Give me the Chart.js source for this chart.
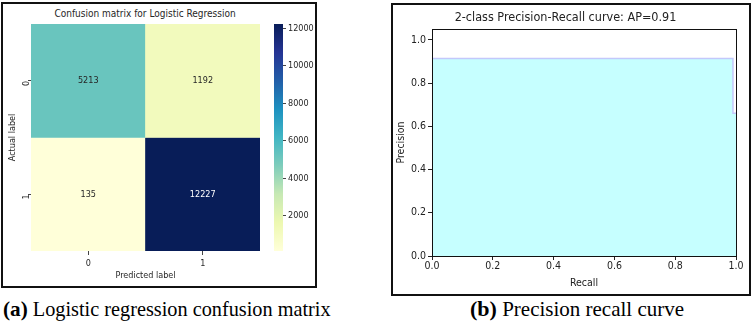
<!DOCTYPE html>
<html>
<head>
<meta charset="utf-8">
<script src="https://cdn.jsdelivr.net/npm/chart.js@4.4.1/dist/chart.umd.min.js"></script>
<style>
  body { margin: 0; background: #fff; width: 753px; height: 323px; position: relative; overflow: hidden; }
  .box { position: absolute; border: 2px solid #111; box-sizing: border-box; }
  canvas { position: absolute; }
  .cap { position: absolute; font-family: "Liberation Serif", serif; font-size: 21px; color: #000; white-space: nowrap; transform-origin: left top; }
  .cap b { font-size: 22px; }
  .htitle { position: absolute; left: 0; width: 290px; top: 8px; text-align: center; font: 10px 'DejaVu Sans Condensed', 'DejaVu Sans', sans-serif; color: #262626; line-height: 12px; }
</style>
</head>
<body>
<div class="box" style="left:1px; top:2px; width:316px; height:286px;"></div>
<div class="box" style="left:391px; top:3px; width:360px; height:293px;"></div>

<div class="htitle">Confusion matrix for Logistic Regression</div>
<canvas id="heat" width="265" height="280" style="left:5px; top:5px;"></canvas>
<canvas id="cbar" width="48" height="280" style="left:268px; top:5px;"></canvas>
<canvas id="pr" width="353" height="288" style="left:395px; top:5px;"></canvas>

<div class="cap" style="left:3px; top:296px; transform: scaleX(0.965);"><b>(a)</b> Logistic regression confusion matrix</div>
<div class="cap" style="left:470px; top:296px; transform: scaleX(1.0);"><b>(b)</b> Precision recall curve</div>

<script>
// confusion matrix data
const classLabels = ['0', '1'];
const row0 = [5213, 1192];
const row1 = [135, 12227];
const cbarTicks = [2000, 4000, 6000, 8000, 10000, 12000];

// precision-recall data
const recall = [0, 0.99, 0.99, 1.0];
const precision = [0.914, 0.914, 0.66, 0.66];
const prTicks = [0, 0.2, 0.4, 0.6, 0.8, 1.0];

const font = "'DejaVu Sans Condensed', 'DejaVu Sans', sans-serif";

// YlGnBu colormap stops
const ylgnbu = ['#ffffd9', '#edf8b1', '#c7e9b4', '#7fcdbb', '#41b6c4', '#1d91c0', '#225ea8', '#253494', '#081d58'];
const vmin = Math.min(...row0, ...row1);
const vmax = Math.max(...row0, ...row1);

function hex2rgb(h) {
    return [parseInt(h.slice(1, 3), 16), parseInt(h.slice(3, 5), 16), parseInt(h.slice(5, 7), 16)];
}
function cmap(v) {
    let t = (v - vmin) / (vmax - vmin);
    t = Math.max(0, Math.min(1, t)) * (ylgnbu.length - 1);
    const i = Math.min(Math.floor(t), ylgnbu.length - 2);
    const f = t - i;
    const a = hex2rgb(ylgnbu[i]), b = hex2rgb(ylgnbu[i + 1]);
    const c = a.map((x, k) => Math.round(x + (b[k] - x) * f));
    return 'rgb(' + c.join(',') + ')';
}

function fixWidth(w) { return function(scale) { scale.width = w; }; }
function fixHeight(h) { return function(scale) { scale.height = h; }; }

// heatmap: each row is a floating bar dataset on a reversed 0..2 axis
const cellText = {
    id: 'cellText',
    afterDatasetsDraw(chart) {
        const ctx = chart.ctx;
        ctx.save();
        ctx.font = '9px ' + font;
        ctx.textAlign = 'center';
        ctx.textBaseline = 'middle';
        chart.data.datasets.forEach((ds, di) => {
            chart.getDatasetMeta(di).data.forEach((el, i) => {
                const v = ds.values[i];
                const p = el.getCenterPoint();
                ctx.fillStyle = v > (vmin + vmax) / 2 ? '#fff' : '#262626';
                ctx.fillText(v, p.x, p.y);
            });
        });
        ctx.restore();
    }
};

new Chart(document.getElementById('heat'), {
    type: 'bar',
    data: {
        labels: classLabels,
        datasets: [row0, row1].map((row, r) => ({
            values: row,
            data: row.map(() => [r, r + 1]),
            backgroundColor: row.map(cmap),
            borderWidth: 0,
            grouped: false,
            barPercentage: 1,
            categoryPercentage: 1
        }))
    },
    options: {
        responsive: false,
        animation: false,
        events: [],
        layout: { padding: { right: 10, top: 19 } },
        plugins: {
            legend: { display: false },
            tooltip: { enabled: false }
        },
        scales: {
            x: {
                afterFit: fixHeight(34),
                grid: { display: true, drawOnChartArea: false, offset: false, tickLength: 4, color: '#444' },
                border: { display: false },
                ticks: { color: '#262626', font: { family: font, size: 9 }, padding: 3 },
                title: { display: true, text: 'Predicted label', color: '#262626', font: { family: font, size: 9 }, padding: { bottom: 4 } }
            },
            y: {
                min: 0,
                max: 2,
                reverse: true,
                afterFit: fixWidth(26),
                afterBuildTicks: function(scale) {
                    scale.ticks = classLabels.map((l, i) => ({ value: i + 0.5 }));
                },
                grid: { display: true, drawOnChartArea: false, tickLength: 3, color: '#444' },
                border: { display: false },
                ticks: {
                    color: '#262626',
                    font: { family: font, size: 9 },
                    padding: 1,
                    minRotation: 90,
                    maxRotation: 90,
                    callback: function(v) { return classLabels[Math.floor(v)]; }
                },
                title: { display: true, text: 'Actual label', color: '#262626', font: { family: font, size: 9 }, padding: { top: 2 } }
            }
        }
    },
    plugins: [cellText]
});

// colour bar
new Chart(document.getElementById('cbar'), {
    type: 'bar',
    data: {
        labels: [''],
        datasets: [{
            data: [[vmin, vmax]],
            backgroundColor: function(c) {
                const area = c.chart.chartArea;
                if (!area) return ylgnbu[0];
                const g = c.chart.ctx.createLinearGradient(0, area.bottom, 0, area.top);
                ylgnbu.forEach((col, i) => g.addColorStop(i / (ylgnbu.length - 1), col));
                return g;
            },
            borderWidth: 0,
            barPercentage: 1,
            categoryPercentage: 1
        }]
    },
    options: {
        responsive: false,
        animation: false,
        events: [],
        layout: { padding: { left: 6, top: 19, bottom: 34 } },
        plugins: { legend: { display: false }, tooltip: { enabled: false } },
        scales: {
            x: { display: false },
            y: {
                position: 'right',
                min: vmin,
                max: vmax,
                afterFit: fixWidth(33),
                afterBuildTicks: function(scale) {
                    scale.ticks = cbarTicks.map(v => ({ value: v }));
                },
                grid: { display: true, drawOnChartArea: false, tickLength: 3, color: '#444' },
                border: { display: false },
                ticks: { color: '#262626', font: { family: font, size: 9 }, padding: 2, callback: v => String(v) }
            }
        }
    }
});

// precision-recall curve
const frame = {
    id: 'frame',
    afterDraw(chart) {
        const a = chart.chartArea;
        const ctx = chart.ctx;
        ctx.save();
        ctx.strokeStyle = '#111';
        ctx.lineWidth = 1;
        ctx.strokeRect(a.left + 0.5, a.top + 0.5, a.right - a.left, a.bottom - a.top);
        ctx.restore();
    }
};

new Chart(document.getElementById('pr'), {
    type: 'line',
    data: {
        datasets: [{
            data: recall.map((r, i) => ({ x: r, y: precision[i] })),
            borderColor: '#c3c8fb',
            backgroundColor: '#c6ffff',
            borderWidth: 1.5,
            pointRadius: 0,
            fill: 'origin',
            tension: 0
        }]
    },
    options: {
        responsive: false,
        animation: false,
        events: [],
        layout: { padding: { right: 12 } },
        plugins: {
            legend: { display: false },
            tooltip: { enabled: false },
            title: {
                display: true,
                text: '2-class Precision-Recall curve: AP=0.91',
                color: '#222',
                font: { family: font, size: 12.5, weight: 'normal' },
                padding: { top: 5, bottom: 4 }
            }
        },
        scales: {
            x: {
                type: 'linear',
                min: 0,
                max: 1,
                afterFit: fixHeight(37),
                afterBuildTicks: function(scale) {
                    scale.ticks = prTicks.map(v => ({ value: v }));
                },
                grid: { display: true, drawOnChartArea: false, tickLength: 4, color: '#222' },
                border: { display: false },
                ticks: { color: '#222', font: { family: font, size: 10.5 }, padding: 0, maxRotation: 0, callback: v => v.toFixed(1) },
                title: { display: true, text: 'Recall', color: '#222', font: { family: font, size: 10.5 }, padding: { bottom: 3 } }
            },
            y: {
                min: 0,
                max: 1.05,
                afterFit: fixWidth(37),
                afterBuildTicks: function(scale) {
                    scale.ticks = prTicks.map(v => ({ value: v }));
                },
                grid: { display: true, drawOnChartArea: false, tickLength: 4, color: '#222' },
                border: { display: false },
                ticks: { color: '#222', font: { family: font, size: 10.5 }, padding: 2, callback: v => v.toFixed(1) },
                title: { display: true, text: 'Precision', color: '#222', font: { family: font, size: 10.5 }, padding: { top: 0 } }
            }
        }
    },
    plugins: [frame]
});
</script>
</body>
</html>
